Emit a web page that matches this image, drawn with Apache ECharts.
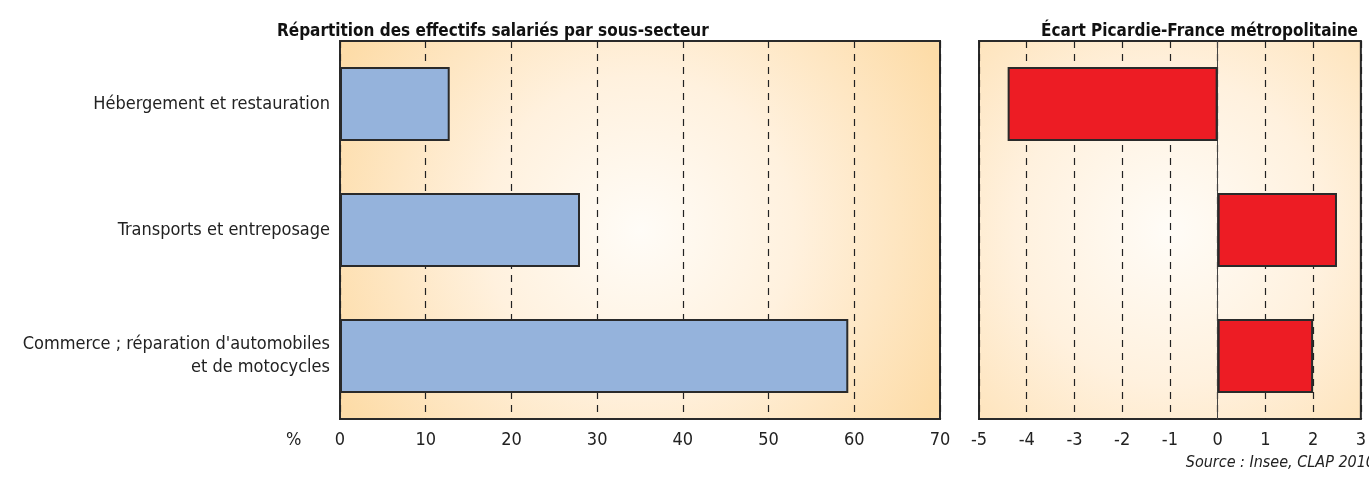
<!DOCTYPE html>
<html lang="fr">
<head>
    <meta charset="utf-8" />
    <title>Répartition des effectifs salariés par sous-secteur</title>
    <script src="https://cdn.jsdelivr.net/npm/echarts@6.0.0/dist/echarts.min.js"></script>
    <style>
        html, body { margin: 0; padding: 0; background: #fff; }
        #chart { width: 1369px; height: 477px; }
    </style>
</head>
<body>
    <div id="chart"></div>
    <script type="text/javascript">
        // sous-secteurs, du haut vers le bas
        var categories = [
            "Hébergement et restauration",
            "Transports et entreposage",
            "Commerce ; réparation d'automobiles\net de motocycles"
        ];
        var partValues = [12.8, 28.0, 59.3];   // % des effectifs salariés
        var ecartValues = [-4.4, 2.5, 2.0];    // écart Picardie - France métro (points)

        var font = '"Liberation Sans Narrow", "DejaVu Sans Condensed", sans-serif';

        function bgGradient() {
            return new echarts.graphic.RadialGradient(0.5, 0.5, 0.9, [
                { offset: 0, color: "#fffcf7" },
                { offset: 0.45, color: "#fff1de" },
                { offset: 1, color: "#fddca8" }
            ]);
        }

        var dashed = { show: true, lineStyle: { color: "#222", type: [7, 6], width: 1.2 } };

        var chart = echarts.init(document.getElementById("chart"));
        chart.setOption({
            animation: false,
            textStyle: { fontFamily: font },
            title: [
                {
                    text: "Répartition des effectifs salariés par sous-secteur",
                    left: 272, top: 18,
                    textStyle: { fontFamily: font, fontWeight: "bold", fontSize: 17, color: "#111" }
                },
                {
                    text: "Écart Picardie-France métropolitaine",
                    right: 6, top: 18,
                    textStyle: { fontFamily: font, fontWeight: "bold", fontSize: 17, color: "#111" }
                }
            ],
            grid: [
                { left: 340, right: 429, top: 41, height: 378, show: true, borderColor: "#2a2a2a", borderWidth: 2, backgroundColor: bgGradient() },
                { left: 979, right: 7, top: 41, height: 378, show: true, borderColor: "#2a2a2a", borderWidth: 2, backgroundColor: bgGradient() }
            ],
            xAxis: [
                {
                    gridIndex: 0, type: "value", min: 0, max: 70, interval: 10,
                    axisLine: { show: false }, axisTick: { show: false },
                    axisLabel: { fontSize: 18, color: "#222", margin: 12 },
                    splitLine: dashed
                },
                {
                    gridIndex: 1, type: "value", min: -5, max: 3, interval: 1,
                    axisLine: { show: false }, axisTick: { show: false },
                    axisLabel: { fontSize: 18, color: "#222", margin: 12 },
                    splitLine: dashed
                }
            ],
            yAxis: [
                {
                    gridIndex: 0, type: "category", data: categories, inverse: true,
                    axisLine: { show: false }, axisTick: { show: false },
                    axisLabel: { fontSize: 18, color: "#222", margin: 10, lineHeight: 23, align: "right" }
                },
                {
                    gridIndex: 1, type: "category", data: categories, inverse: true,
                    axisLine: { show: true, onZero: true, lineStyle: { color: "#444", width: 1 } },
                    axisTick: { show: false }, axisLabel: { show: false }
                }
            ],
            series: [
                {
                    type: "bar", xAxisIndex: 0, yAxisIndex: 0, data: partValues, barWidth: 74,
                    itemStyle: { color: "#95b3dc", borderColor: "#2a2a2a", borderWidth: 2 }
                },
                {
                    type: "bar", xAxisIndex: 1, yAxisIndex: 1, data: ecartValues, barWidth: 74,
                    itemStyle: { color: "#ed1c24", borderColor: "#2a2a2a", borderWidth: 2 }
                }
            ],
            graphic: [
                {
                    type: "text", left: 286, top: 431,
                    style: { text: "%", font: "18px " + font, fill: "#222" }
                },
                {
                    type: "text", right: -6, top: 455,
                    style: { text: "Source : Insee, CLAP 2010", font: "italic 16px " + font, fill: "#222" }
                }
            ]
        });
    </script>
</body>
</html>
